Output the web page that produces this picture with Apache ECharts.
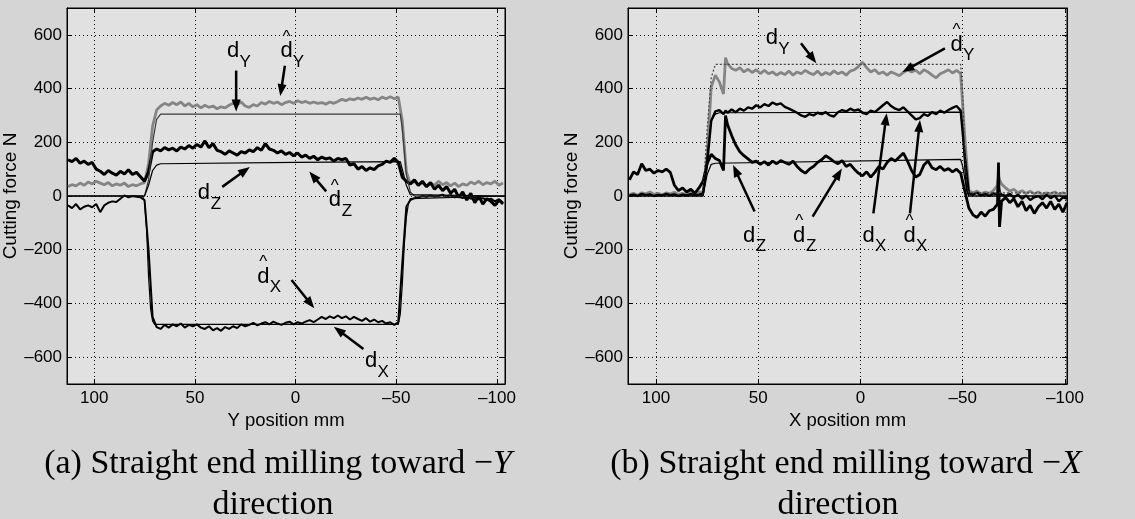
<!DOCTYPE html>
<html>
<head>
<meta charset="utf-8">
<script src="https://cdn.jsdelivr.net/npm/echarts@6/dist/echarts.min.js"></script>
<style>
html, body { margin: 0; padding: 0; background: #d5d5d5; }
#chart { width: 1135px; height: 519px; }
</style>
</head>
<body>
<div id="chart"></div>
<script>
// tick labels
const xTicks = [100, 50, 0, -50, -100];
const yTicks = [-600, -400, -200, 0, 200, 400, 600];

// sample positions, mm (panel a: toward -Y, panel b: toward -X)
const posA = [113,111,109,107,105,103,101,99,97,95,93,91,89,87,85,83,81,79,77,75,
  73,71,69,67,65,63,61,59,57,55,53,51,49,47,45,43,41,39,37,35,
  33,31,29,27,25,23,21,19,17,15,13,11,9,7,5,3,1,-1,-3,-5,
  -7,-9,-11,-13,-15,-17,-19,-21,-23,-25,-27,-29,-31,-33,-35,-37,-39,-41,-43,-45,
  -47,-49,-51,-53,-55,-57,-59,-61,-63,-65,-67,-69,-71,-73,-75,-77,-79,-81,-83,-85,
  -87,-89,-91,-93,-95,-97,-99,-101,-103];
const posB = [113,111,109,107,105,103,101,99,97,95,93,91,89,87,85,83,81,79,77,75,
  73,71,69,67,66,
  65,63,61,59,57,55,53,51,49,47,45,43,41,39,37,35,33,31,29,27,
  25,23,21,19,17,15,13,11,9,7,5,3,1,-1,-3,-5,-7,-9,-11,-13,
  -15,-17,-19,-21,-23,-25,-27,-29,-31,-33,-35,-37,-39,-41,-43,-45,-47,-49,-51,-53,
  -55,-57,-59,-61,-63,-65,
  -67,-67.5,-68,
  -69,-71,-73,-75,-77,-79,-81,-83,-85,-87,-89,-91,-93,-95,-97,-99,-101];

// measured forces N, panel a
const dYhatA = [35,42,38,48,40,52,45,55,48,42, 50,38,45,40,48,35,42,38,45,50,
  120,260,320,335,345,338,348,340,350,335, 345,332,340,328,338,330,335,325,332,328,
  338,345,340,350,335,330,340,335,348,342, 352,345,350,340,348,352,345,355,348,352,
  345,350,345,348,342,350,345,352,360,355, 362,358,365,360,368,360,365,358,368,362,
  370,362,368,280,90,45,55,40,50,35, 48,40,55,42,50,38,48,35,45,40,
  52,45,55,42,50,45,55,40,48];
const dZhatA = [135,128,140,122,130,118,125,100,92,80, 95,85,78,92,82,98,80,88,72,55,
  90,165,175,168,180,172,178,168,182,175, 188,178,192,182,205,180,195,170,165,155,
  168,160,152,165,160,172,165,180,170,195, 175,170,160,168,155,162,150,160,145,152,
  140,148,135,145,138,142,130,140,135,140, 115,120,100,110,95,105,98,112,118,130,
  125,140,125,70,55,45,60,40,55,35, 50,25,40,20,35,10,25,-5,15,-15,
  10,-25,0,-30,-10,-20,-35,-15,-30];
const dXhatA = [-35,-45,-30,-50,-40,-35,-42,-30,-60,-35, -25,-20,-22,-10,2,-5,0,-3,-5,-15,
  -200,-450,-488,-495,-480,-490,-478,-485,-475,-490, -480,-485,-478,-490,-495,-485,-500,-492,-502,-488,
  -495,-485,-492,-478,-485,-480,-472,-482,-475,-470, -478,-468,-475,-480,-472,-468,-478,-470,-475,-468,
  -462,-470,-460,-450,-458,-448,-455,-445,-455,-448, -460,-450,-458,-465,-455,-468,-460,-470,-465,-475,
  -470,-480,-470,-250,-40,-15,-8,-5,0,-3, 2,-2,0,5,-2,3,-5,-2,-8,-3,
  -10,-5,-12,-8,-15,-10,-20,-12,-25];

// measured forces N, panel b
const dYhatB = [5,10,3,12,8,15,6,10,4,12, 8,14,6,10,5,12,8,14,15,150,
  405,450,425,380,515,
  492,475,468,478,462,472,460,470,456,468, 455,462,450,460,452,465,450,462,455,468,
  458,452,465,450,460,452,466,455,462,450, 465,470,482,498,478,462,470,455,462,450,
  462,455,448,460,470,462,468,455,470,462, 450,440,455,462,470,458,468,455,220,20,
  12,18,8,15,10,20,
  40,75,60,
  45,30,18,25,12,20,10,18,8,15,5,12,8,15,5,12,8];
const dXhatB = [2,5,0,8,3,6,0,4,2,8, 3,6,0,5,2,7,3,5,10,120,
  280,315,320,305,318,
  310,322,312,325,318,330,325,338,330,342, 335,348,340,345,332,325,318,310,300,295,
  305,300,310,305,312,300,296,312,320,315, 325,318,322,310,305,318,312,325,338,350,
  335,325,320,330,315,300,285,290,305,298, 312,305,318,310,320,328,335,318,150,10,
  5,12,2,8,0,10,
  5,40,15,
  5,0,8,-5,5,-10,2,-15,-5,0,-12,5,-8,2,-20,-5,-10];
const dZhatB = [60,90,80,120,95,100,85,95,90,100, 88,40,20,30,15,25,10,30,55,120,
  155,140,132,95,300,
  265,225,190,165,150,138,125,130,118,128, 115,130,120,132,125,118,130,110,95,85,
  100,110,125,135,150,140,128,120,132,110, 118,100,85,75,90,70,88,110,100,125,
  140,130,145,160,130,95,70,80,115,130, 105,98,110,95,102,90,100,85,20,-45,
  -70,-80,-60,-75,-55,-50,
  -30,125,-115,
  -20,-5,-25,-10,-40,-20,-55,-35,-65,-40,-25,-45,-20,-50,-30,-60,-25];

// model forces N (breakpoints), panel a
const dYposA = [113.5, 75, 73, 71, 69, 67, -52, -53, -55, -57, -59, -104];
const dYA = [0, 0, 60, 200, 285, 305, 305, 250, 80, 15, 0, 0];
const dZposA = [113.5, 75, 73, 71, 69, 67, 0, -52, -53, -55, -57, -104];
const dZA = [0, 0, 40, 95, 115, 120, 125, 128, 100, 40, 5, 0];
const dXposA = [113.5, 76, 75, 74, 73, 72, 71, 70, -51, -52, -53, -54, -55, -56, -57, -104];
const dXA = [0, 0, -20, -120, -300, -420, -465, -478, -478, -440, -330, -180, -80, -30, -10, 0];

// model forces N (breakpoints), panel b
const dYposB = [113.7, 77, 75, 73, 71, -49, -50, -51, -52, -53, -101];
const dYB = [0, 0, 250, 440, 490, 490, 380, 150, 30, 12, 12];
const dXposB = [113.7, 77, 75, 73, 71, 69, -49, -50, -51, -52, -53, -101];
const dXB = [0, 0, 150, 280, 305, 310, 312, 250, 100, 20, 0, 0];
const dZposB = [113.7, 77, 75, 73, 71, -49, -50, -52, -53, -101];
const dZB = [0, 0, 80, 118, 122, 136, 110, 20, 0, 0];

// annotation labels [x, y, subscript, hat] and arrows [x0, y0, x1, y1], data units
const labelsA = [[31, 540, 'Y', false], [4.5, 540, 'Y', true], [45.5, 10, 'Z', false],
  [-19.5, -15, 'Z', true], [16, -300, 'X', true], [-37.5, -615, 'X', false]];
const arrowsA = [[29.5, 467, 29.5, 315], [5.3, 485, 7.6, 372], [36.4, 34, 22.7, 108],
  [-15.2, 17, -6.8, 91], [2, -313, -9.3, -418], [-33.7, -570, -19, -487]];
const labelsB = [[43.3, 587, 'Y', false], [-47, 563, 'Y', true], [54.5, -148, 'Z', false],
  [30, -148, 'Z', true], [-4, -148, 'X', false], [-24, -148, 'X', true]];
const arrowsB = [[29.1, 569, 21.6, 494], [-41.3, 550, -20.5, 462], [51.8, -58, 62.3, 115],
  [23.4, -77, 9.1, 102], [-6.3, -65, -12.8, 308], [-24.2, -65, -29.1, 283]];

const SANS = '"Liberation Sans", Arial, sans-serif';
const SERIF = '"Liberation Serif", "Times New Roman", serif';

let fmt = function (v) {
    return v < 0 ? '\u2013' + (-v) : String(v);
};

let xAxisPair = function (grid, min, max, name) {
    let base = {
        type: 'value', gridIndex: grid, min: min, max: max, inverse: true,
        axisLine: { show: true, onZero: false, lineStyle: { color: '#000', width: 1 } },
        axisTick: { show: true, inside: true, length: 5, customValues: xTicks, lineStyle: { color: '#000' } }
    };
    return [
        Object.assign({}, base, {
            position: 'bottom',
            axisLabel: { customValues: xTicks, formatter: fmt, color: '#000', fontSize: 17, fontFamily: SANS, margin: 6 },
            splitLine: { show: true, lineStyle: { color: '#111', width: 1, type: [1, 3] } },
            name: name, nameLocation: 'middle', nameGap: 23,
            nameTextStyle: { color: '#000', fontSize: 18.5, fontFamily: SANS }
        }),
        Object.assign({}, base, {
            position: 'top',
            axisLabel: { show: false },
            splitLine: { show: false }
        })
    ];
};

let yAxisPair = function (grid, nameGap) {
    let base = {
        type: 'value', gridIndex: grid, min: -700, max: 700,
        axisLine: { show: true, onZero: false, lineStyle: { color: '#000', width: 1 } },
        axisTick: { show: true, inside: true, length: 5, customValues: yTicks, lineStyle: { color: '#000' } }
    };
    return [
        Object.assign({}, base, {
            position: 'left',
            axisLabel: { customValues: yTicks, formatter: fmt, color: '#000', fontSize: 17, fontFamily: SANS, margin: 5 },
            splitLine: { show: true, lineStyle: { color: '#111', width: 1, type: [1, 3] } },
            name: 'Cutting force N', nameLocation: 'middle', nameGap: nameGap, nameRotate: 90,
            nameTextStyle: { color: '#000', fontSize: 19, fontFamily: SANS }
        }),
        Object.assign({}, base, {
            position: 'right',
            axisLabel: { show: false },
            splitLine: { show: false }
        })
    ];
};

let line = function (xs, ys, axis, color, width, type, z) {
    return {
        type: 'line', xAxisIndex: axis, yAxisIndex: axis,
        data: xs.map(function (x, i) { return [x, ys[i]]; }),
        symbol: 'none', showSymbol: false, silent: true,
        lineStyle: { color: color, width: width, type: type || 'solid' },
        z: z || 2, animation: false
    };
};

const chart = echarts.init(document.getElementById('chart'));

chart.setOption({
    backgroundColor: '#d5d5d5',
    animation: false,
    grid: [
        { left: 67, top: 8, width: 438, height: 376, show: true, borderColor: '#000', borderWidth: 1, backgroundColor: '#e1e1e1' },
        { left: 628, top: 8, width: 439, height: 376, show: true, borderColor: '#000', borderWidth: 1, backgroundColor: '#e1e1e1' }
    ],
    xAxis: xAxisPair(0, -104, 113.5, 'Y position mm').concat(xAxisPair(1, -101, 113.7, 'X position mm')),
    yAxis: yAxisPair(0, 39).concat(yAxisPair(1, 38)),
    series: [
        // panel a
        line(posA, dYhatA, 0, '#858585', 2.8, 'solid', 2),
        line(posA, dXhatA, 0, '#000', 2, 'solid', 3),
        line(posA, dZhatA, 0, '#000', 3, 'solid', 3),
        line(dYposA, dYA, 0, '#3a3a3a', 1.2, 'solid', 4),
        line(dZposA, dZA, 0, '#000', 1.2, 'solid', 4),
        line(dXposA, dXA, 0, '#000', 1.2, 'solid', 4),
        // panel b
        line(posB, dYhatB, 2, '#858585', 2.8, 'solid', 2),
        line(posB, dXhatB, 2, '#000', 2.4, 'solid', 3),
        line(posB, dZhatB, 2, '#000', 2.8, 'solid', 3),
        line(dYposB, dYB, 2, '#444', 1.2, [2, 2], 4),
        line(dXposB, dXB, 2, '#000', 1.2, 'solid', 4),
        line(dZposB, dZB, 2, '#000', 1.2, 'solid', 4)
    ]
});

// annotations: text and arrows placed from data coordinates
let elements = [];
let txt = function (x, y, s, size) {
    elements.push({
        type: 'text', x: x, y: y, z: 20, silent: true,
        style: { text: s, font: size + 'px ' + SANS, fill: '#000',
                 align: 'center', verticalAlign: 'middle', textAlign: 'center', textVerticalAlign: 'middle' }
    });
};
let addLabels = function (axis, labels) {
    labels.forEach(function (l) {
        let p = chart.convertToPixel({ xAxisIndex: axis, yAxisIndex: axis }, [l[0], l[1]]);
        txt(p[0], p[1], 'd', 22);
        txt(p[0] + 12, p[1] + 11, l[2], 17);
        if (l[3]) txt(p[0], p[1] - 14, '^', 17);
    });
};
let addArrows = function (axis, arrows) {
    arrows.forEach(function (a) {
        let p0 = chart.convertToPixel({ xAxisIndex: axis, yAxisIndex: axis }, [a[0], a[1]]);
        let p1 = chart.convertToPixel({ xAxisIndex: axis, yAxisIndex: axis }, [a[2], a[3]]);
        let dx = p1[0] - p0[0], dy = p1[1] - p0[1];
        let len = Math.sqrt(dx * dx + dy * dy);
        let ux = dx / len, uy = dy / len;
        let hl = 12, hw = 4.5;
        let bx = p1[0] - ux * hl, by = p1[1] - uy * hl;
        elements.push({
            type: 'line', z: 20, silent: true,
            shape: { x1: p0[0], y1: p0[1], x2: bx + ux * 2, y2: by + uy * 2 },
            style: { stroke: '#000', lineWidth: 2.5 }
        });
        elements.push({
            type: 'polygon', z: 20, silent: true,
            shape: { points: [[p1[0], p1[1]], [bx - uy * hw, by + ux * hw], [bx + uy * hw, by - ux * hw]] },
            style: { fill: '#000' }
        });
    });
};
addLabels(0, labelsA);
addArrows(0, arrowsA);
addLabels(2, labelsB);
addArrows(2, arrowsB);

// sub-figure captions
let caption = function (cx, cy, head, letter) {
    elements.push({
        type: 'text', x: cx, y: cy, z: 20, silent: true,
        style: {
            text: '{n|' + head + '}{i|' + letter + '}',
            rich: {
                n: { fontFamily: SERIF, fontSize: 34, fill: '#000', color: '#000' },
                i: { fontFamily: SERIF, fontSize: 34, fontStyle: 'italic', fill: '#000', color: '#000' }
            },
            align: 'center', verticalAlign: 'middle', textAlign: 'center', textVerticalAlign: 'middle'
        }
    });
};
caption(278, 464, '(a) Straight end milling toward \u2212', 'Y');
caption(846, 464, '(b) Straight end milling toward \u2212', 'X');
caption(273, 505, 'direction', '');
caption(838, 505, 'direction', '');

chart.setOption({ graphic: elements });
</script>
</body>
</html>
